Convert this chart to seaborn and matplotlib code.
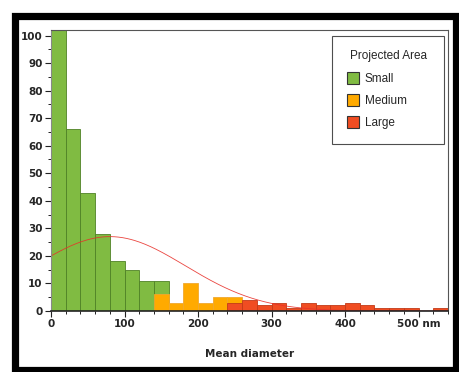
#!/usr/bin/env python3
"""Histogram of mean particle diameter by projected area class."""

import matplotlib as mpl
import matplotlib.pyplot as plt
import numpy as np
import seaborn as sns
from matplotlib.patches import Rectangle
from matplotlib.ticker import FixedFormatter, FixedLocator, MultipleLocator

mpl.use("Agg")

# Bin edges (nm) and counts per class
bin_edges = [0, 20, 40, 60, 80, 100, 120, 140, 160, 180, 200, 220, 240, 260,
             280, 300, 320, 340, 360, 380, 400, 420, 440, 460, 480, 500, 520,
             540]
small_left = [0, 20, 40, 60, 80, 100, 120, 140]
small_counts = [102, 66, 43, 28, 18, 15, 11, 11]
medium_left = [140, 160, 180, 200, 220, 240]
medium_counts = [6, 3, 10, 3, 5, 5]
large_left = [240, 260, 280, 300, 320, 340, 360, 380, 400, 420, 440, 460,
              480, 500, 520]
large_counts = [3, 4, 2, 3, 1, 3, 2, 2, 3, 2, 1, 1, 1, 0, 1]

# Fitted normal curve
fit_mean = 80
fit_sd = 103
fit_peak = 27

x_ticks = [0, 100, 200, 300, 400, 500]
x_labels = ["0", "100", "200", "300", "400", "500 nm"]
classes = ["Small", "Medium", "Large"]
colors = {"Small": "#80bb42", "Medium": "#ffaa00", "Large": "#f04d22"}
edges = {"Small": "#4f8226", "Medium": "#f0a830", "Large": "#c23a18"}

sns.set_style("white")
plt.rcParams["font.family"] = ["DejaVu Sans"]

fig = plt.figure(figsize=(4.6, 3.72), dpi=100)
ax = fig.add_axes([51 / 460, 1 - 311 / 372, 397 / 460, 281 / 372])

series = {"Small": (small_left, small_counts),
          "Medium": (medium_left, medium_counts),
          "Large": (large_left, large_counts)}
for name in classes:
    left, counts = series[name]
    sns.histplot(x=left, weights=counts, bins=bin_edges, ax=ax,
                 color=colors[name], edgecolor=edges[name], linewidth=0.6,
                 alpha=1, element="bars")

xs = np.linspace(0, 540, 300)
ys = fit_peak * np.exp(-(xs - fit_mean) ** 2 / (2 * fit_sd ** 2))
sns.lineplot(x=xs, y=ys, ax=ax, color="#e8302a", linewidth=0.6, alpha=0.9)

ax.set_xlim(0, 540)
ax.set_ylim(0, 102)
ax.xaxis.set_major_locator(FixedLocator(x_ticks))
ax.xaxis.set_major_formatter(FixedFormatter(x_labels))
ax.xaxis.set_minor_locator(MultipleLocator(20))
ax.yaxis.set_major_locator(MultipleLocator(10))
ax.yaxis.set_minor_locator(MultipleLocator(5))
ax.tick_params(which="major", length=4, width=0.8, color="#222222",
               labelsize=7.5, pad=2)
ax.tick_params(which="minor", length=2.5, width=0.7, color="#222222")
ax.tick_params(axis="x", which="both", bottom=True)
ax.tick_params(axis="y", which="both", left=True)
for lab in ax.get_xticklabels() + ax.get_yticklabels():
    lab.set_fontweight("bold")
ax.set_xlabel("Mean diameter", fontsize=7.5, fontweight="bold", labelpad=14)
ax.set_ylabel("")
for side in ["top", "right"]:
    ax.spines[side].set_color("#555555")
    ax.spines[side].set_linewidth(0.8)
ax.spines["left"].set_color("#888888")
ax.spines["bottom"].set_color("#222222")
ax.spines["bottom"].set_linewidth(1.2)

handles = [Rectangle((0, 0), 1, 1, facecolor=colors[c], edgecolor="#333333",
                     linewidth=0.8) for c in classes]
leg = ax.legend(handles, classes, title="Projected Area", loc="upper left",
                bbox_to_anchor=(0.708, 0.98, 0.282, 0.0), mode="expand",
                frameon=True, fancybox=False, edgecolor="#222222",
                fontsize=8.5, title_fontsize=8.5, handlelength=1.05,
                handleheight=1.2, labelspacing=0.78, handletextpad=0.45,
                borderpad=1.25, borderaxespad=0)
leg.get_frame().set_linewidth(0.8)
for t in leg.get_texts() + [leg.get_title()]:
    t.set_family("Liberation Sans")

# Thick black frame around the whole picture
fig.patches.append(Rectangle((15 / 460, 2.5 / 372), 441 / 460, 353.5 / 372,
                             transform=fig.transFigure, fill=False,
                             edgecolor="black", linewidth=5.2))

fig.savefig("out.png", dpi=100)
